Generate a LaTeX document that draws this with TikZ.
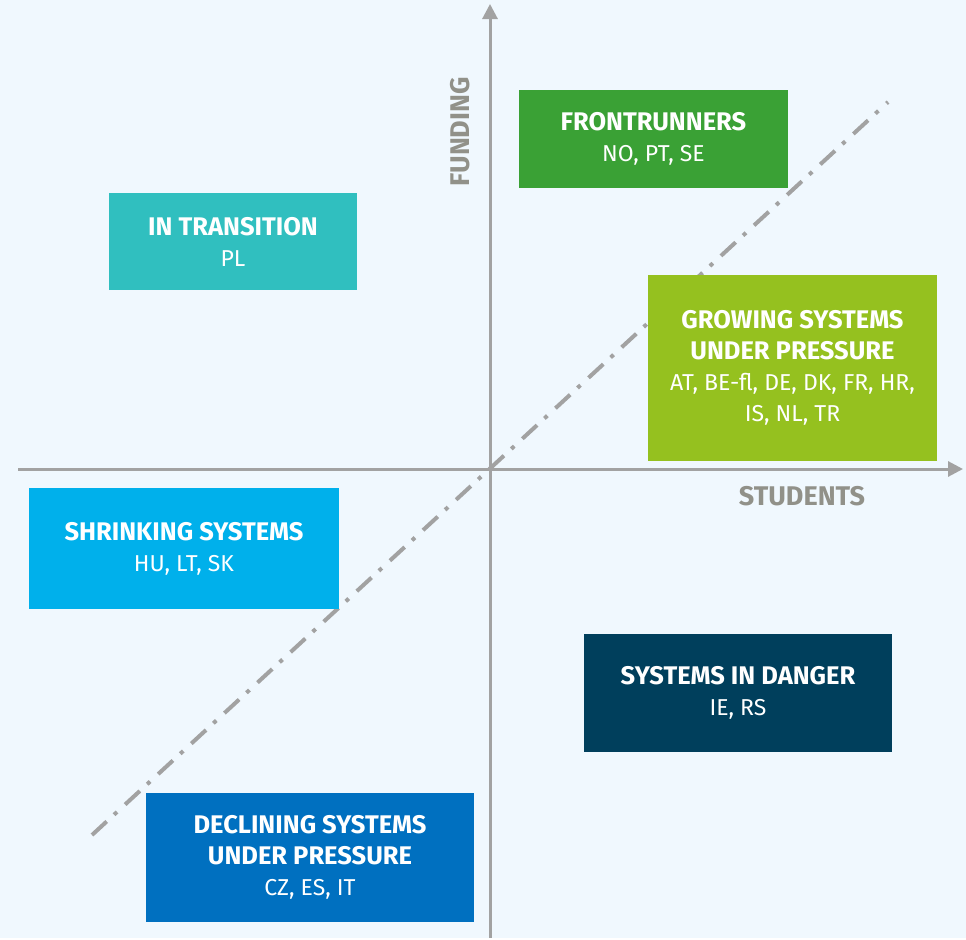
\documentclass[tikz,border=0pt]{standalone}
\usepackage{fontspec}
\setmainfont{Fira Sans}
\usetikzlibrary{arrows.meta}

\definecolor{bgblue}{HTML}{F0F8FE}
\definecolor{axisgray}{HTML}{A2A2A2}
\definecolor{labelgray}{HTML}{919189}
\definecolor{frontgreen}{HTML}{3AA135}
\definecolor{transteal}{HTML}{30BFBF}
\definecolor{growlime}{HTML}{95C11F}
\definecolor{shrinkcyan}{HTML}{00B0EB}
\definecolor{dangernavy}{HTML}{003F5C}
\definecolor{declineblue}{HTML}{0070C0}

\newcommand{\grouptitle}[1]{{\fontsize{25.5}{31}\selectfont\bfseries #1}}

\tikzset{
  group/.style={rectangle, inner sep=0pt, text=white, align=center,
    font=\fontsize{23}{31}\selectfont},
  axis/.style={draw=axisgray, line width=3pt, -{Triangle[length=15pt,width=15pt]}},
  axislabel/.style={text=labelgray, font=\fontsize{27}{30}\selectfont\bfseries},
}

\begin{document}
\begin{tikzpicture}[x=1pt, y=-1pt]
	\fill[bgblue] (0,0) rectangle (966,938);
	\coordinate (ybot) at (490,938);
	\coordinate (ytop) at (490,4);
	\coordinate (xleft) at (18,469);
	\coordinate (xright) at (963,469);
	\coordinate (dlow) at (92,835);
	\coordinate (dhigh) at (888,102);
	\draw[axisgray, line width=4pt, dash pattern=on 20pt off 10pt on 4pt off 11pt] (dlow) -- (dhigh);
	\draw[axis] (ybot) -- (ytop);
	\draw[axis] (xleft) -- (xright);
	\node[axislabel, rotate=90] (funding) at (460,132) {FUNDING};
	\node[axislabel] (students) at (802,496) {STUDENTS};
		\node[group, fill=frontgreen, minimum width=269pt, minimum height=98pt] (front) at (653.5,139)
			{\grouptitle{FRONTRUNNERS}\\NO, PT, SE};
		\node[group, fill=transteal, minimum width=248pt, minimum height=97pt] (trans) at (233,241.5)
			{\grouptitle{IN TRANSITION}\\PL};
		\node[group, fill=growlime, minimum width=289pt, minimum height=186pt] (grow) at (792.5,368)
			{\grouptitle{GROWING SYSTEMS}\\\grouptitle{UNDER PRESSURE}\\AT, BE-fl, DE, DK, FR, HR,\\IS, NL, TR};
		\node[group, fill=shrinkcyan, minimum width=310pt, minimum height=121pt] (shrink) at (184,548.5)
			{\grouptitle{SHRINKING SYSTEMS}\\HU, LT, SK};
		\node[group, fill=dangernavy, minimum width=308pt, minimum height=118pt] (danger) at (738,693)
			{\grouptitle{SYSTEMS IN DANGER}\\IE, RS};
		\node[group, fill=declineblue, minimum width=328pt, minimum height=129pt] (decline) at (310,857.5)
			{\grouptitle{DECLINING SYSTEMS}\\\grouptitle{UNDER PRESSURE}\\CZ, ES, IT};
\end{tikzpicture}
\end{document}
